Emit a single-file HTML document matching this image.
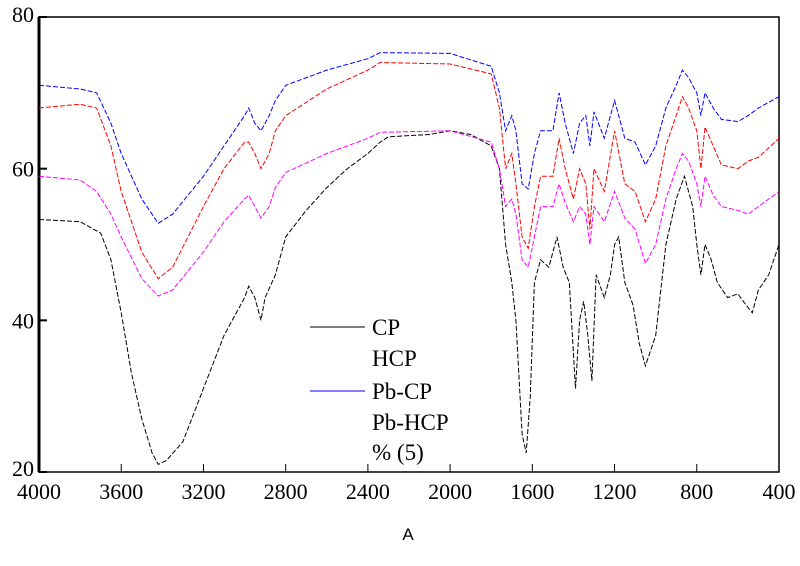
<!DOCTYPE html>
<html><head><meta charset="utf-8"><style>
body{margin:0;background:#fff;width:800px;height:561px;overflow:hidden}
</style></head><body>
<svg id="c" width="800" height="561"></svg>
<script>
const cpX=[4000,3800,3700,3650,3600,3550,3500,3450,3420,3380,3300,3200,3100,3000,2980,2950,2920,2900,2850,2800,2700,2600,2500,2400,2340,2300,2100,2000,1900,1800,1760,1730,1700,1680,1650,1630,1610,1590,1560,1520,1480,1450,1420,1390,1370,1350,1330,1310,1290,1250,1220,1200,1180,1150,1110,1080,1050,1000,950,900,860,820,800,780,760,730,700,650,600,560,530,500,450,400];
const cpY=[53.3,53,51.5,48,41,33,27,22.5,21,21.5,24,31,38,43,44.5,43,40,43,46,51,54.5,57.5,60,62,63.5,64.2,64.5,65,64.5,63,60,50,45,40,25,22.5,30,45,48,47,51,47,45,31,40,42.5,38,32,46,43,46,50,51,45,42,37,34,38,50,56,59,55,50,46,50,48,45,43,43.5,42,41,44,46,50];
const sX=[4000,3800,3720,3650,3600,3500,3420,3350,3200,3100,3000,2980,2950,2920,2880,2850,2800,2600,2400,2340,2000,1800,1760,1730,1700,1680,1650,1620,1590,1560,1500,1470,1440,1400,1370,1340,1320,1300,1250,1200,1150,1100,1050,1000,950,900,870,840,800,780,760,720,680,600,550,500,400];
const pbcpY=[71,70.5,70,66,62,56,52.8,54,59,63,67,68,66,65,67,69,71,73,74.5,75.3,75.2,73.5,70,65,67,65,58,57.3,62,65,65,70,66,62,66,67,63,67.5,64,69,64,63.5,60.5,63,68,71,73,72,70,67,70,68,66.5,66.2,67,68,69.5];
const hcpY=[68,68.5,68,63,57,49,45.5,47,55,60,63.5,63.5,62,60,62,65,67,70.5,73,74,73.8,72.5,68,60,62,58,51,49.5,55,59,59,64,60,56,60,58,52,60,57,65,58,57,53,56,63,67,69.5,68,65,60,65.5,63,60.5,60,61,61.5,64];
const pbhcpY=[59,58.5,57,54,51,45.5,43.2,44,49,53,56,56.5,55,53.5,55,57.5,59.5,62,64,64.8,65,63.5,60,55,56,54,48,47,51,55,55,58,55.5,53,55,54,50,55,53,57,53.5,52,47.5,50,56,60,62,61,58,55,59,56.5,55,54.5,54,55,57];
const xTicks=[4000,3600,3200,2800,2400,2000,1600,1200,800,400];
const yTicks=[20,40,60,80];
const L=39,R=779,T=17,B=472;
const SERIF='Liberation Serif, serif';
const xs=v=>L+(4000-v)/3600*(R-L);
const ys=v=>B-(v-20)/60*(B-T);
const svg=document.getElementById('c');
const NS='http://www.w3.org/2000/svg';
function mk(t,a,p){const e=document.createElementNS(NS,t);for(const k in a)e.setAttribute(k,a[k]);(p||svg).appendChild(e);return e;}
const frame=mk('rect',{x:L,y:T,width:R-L,height:B-T,fill:'none',stroke:'#000','stroke-width':1.5});


const ax=mk('line',{x1:L,y1:T,x2:L,y2:B,stroke:'#000','stroke-width':3});


xTicks.forEach(t=>{
 const l=mk('line',{x1:xs(t),y1:B,x2:xs(t),y2:B-8,stroke:'#000','stroke-width':1});
 
 
 const tx=mk('text',{x:xs(t),y:B+27,'text-anchor':'middle','font-size':22,'font-family':SERIF});
 tx.textContent=t;
 
 
});
yTicks.forEach(t=>{
 const l=mk('line',{x1:L,y1:ys(t),x2:L+8,y2:ys(t),stroke:'#000','stroke-width':2});
 
 
 const tx=mk('text',{x:L-5,y:ys(t)+(t==20?4:t==80?5:8),'text-anchor':'end','font-size':22,'font-family':SERIF});
 tx.textContent=t;
 
 
});
function series(X,Y,col,name){
 const d=X.map((x,i)=>(i?'L':'M')+xs(x).toFixed(1)+','+ys(Y[i]).toFixed(1)).join('');
 const p=mk('path',{d:d,fill:'none',stroke:col,'stroke-width':1,'stroke-dasharray':'5,2'});
 
 
}
series(cpX,cpY,'#000','cp-line');
series(sX,pbcpY,'#0000ff','pb-cp-line');
series(sX,hcpY,'#ff0000','hcp-line');
series(sX,pbhcpY,'#ff00ff','pb-hcp-line');
const leg=[['CP','#000'],['HCP',null],['Pb-CP','#0000ff'],['Pb-HCP',null],['% (5)',null]];
const legY=[327,358,391,422,452];
leg.forEach((e,i)=>{
 const y=legY[i];
 if(e[1]){const l=mk('line',{x1:310,y1:y,x2:365,y2:y,stroke:e[1],'stroke-width':1});
 
 }
 const t=mk('text',{x:372,y:y+8,'font-size':23,'font-family':SERIF});
 t.textContent=e[0];
 
 
});
const xt=mk('text',{x:408,y:540,'text-anchor':'middle','font-size':17,'font-family':'Liberation Sans, sans-serif'});
xt.textContent='A';


</script>
</body></html>
